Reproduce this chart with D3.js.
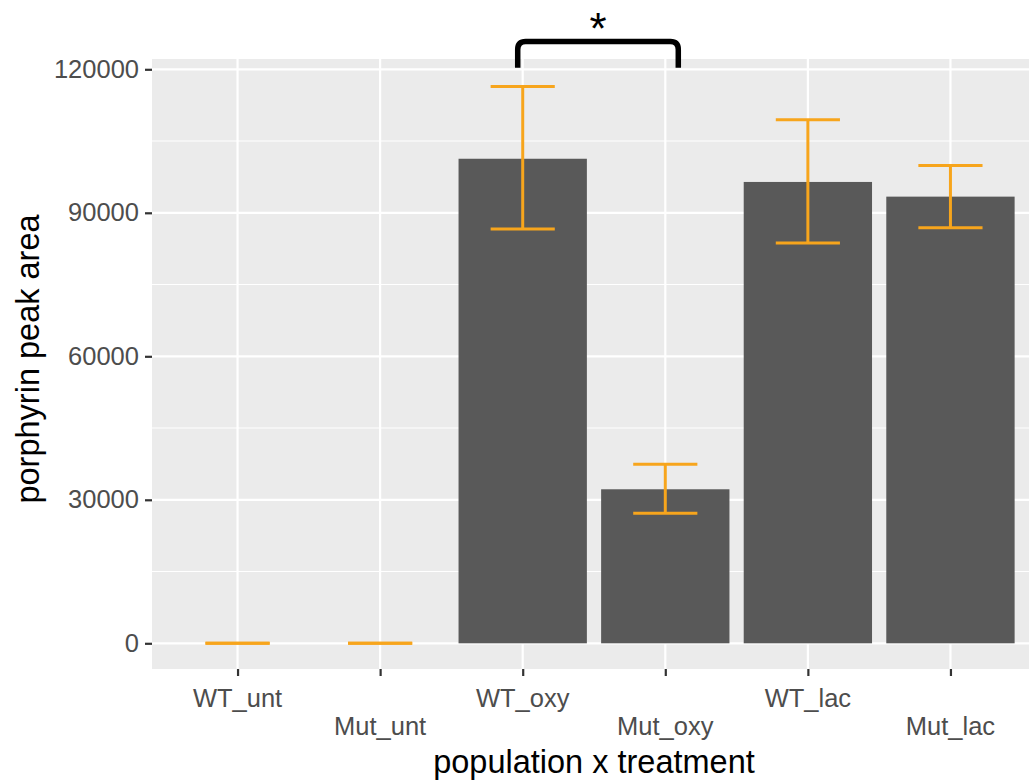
<!DOCTYPE html>
<html>
<head>
<meta charset="utf-8">
<script src="https://cdn.jsdelivr.net/npm/d3@7"></script>
<style>
  body { margin: 0; background: #fff; }
  text { font-family: "Liberation Sans", Arial, sans-serif; }
</style>
</head>
<body>
<div id="chart"></div>
<script>
// values
const categories = ["WT_unt", "Mut_unt", "WT_oxy", "Mut_oxy", "WT_lac", "Mut_lac"];
const means = [0, 0, 101300, 32200, 96450, 93380];
const upper = [0, 0, 116400, 37450, 109450, 99870];
const lower = [0, 0, 86600, 27200, 83700, 86900];
const yTicks = [0, 30000, 60000, 90000, 120000];
const yMinor = [15000, 45000, 75000, 105000];

const width = 1029, height = 784;
const panel = { left: 152, right: 1036, top: 59, bottom: 669 };

const svg = d3.select("#chart").append("svg")
    .attr("width", width)
    .attr("height", height);

const x = d3.scalePoint()
    .domain(categories)
    .range([panel.left, panel.right])
    .padding(0.6);

const y = d3.scaleLinear()
    .domain([0, 120000])
    .range([643.3, 69.3]);

const step = x.step();
const barW = step * 0.9;
const capW = step * 0.45;

// panel background
svg.append("rect")
    .attr("x", panel.left)
    .attr("y", panel.top)
    .attr("width", panel.right - panel.left)
    .attr("height", panel.bottom - panel.top)
    .attr("fill", "#ebebeb");

// grid
const grid = svg.append("g").attr("stroke", "#fff");
grid.selectAll(".minor")
    .data(yMinor)
    .join("line")
    .attr("x1", panel.left).attr("x2", panel.right)
    .attr("y1", d => y(d)).attr("y2", d => y(d))
    .attr("stroke-width", 1.1);
grid.selectAll(".major")
    .data(yTicks)
    .join("line")
    .attr("x1", panel.left).attr("x2", panel.right)
    .attr("y1", d => y(d)).attr("y2", d => y(d))
    .attr("stroke-width", 2.2);
grid.selectAll(".vmajor")
    .data(categories)
    .join("line")
    .attr("x1", d => x(d)).attr("x2", d => x(d))
    .attr("y1", panel.top).attr("y2", panel.bottom)
    .attr("stroke-width", 2.2);

const rows = categories.map((c, i) => ({ cat: c, mean: means[i], hi: upper[i], lo: lower[i] }));

// bars
svg.append("g")
    .selectAll("rect")
    .data(rows.filter(d => d.mean > 0))
    .join("rect")
    .attr("x", d => x(d.cat) - barW / 2)
    .attr("y", d => y(d.mean))
    .attr("width", barW)
    .attr("height", d => y(0) - y(d.mean))
    .attr("fill", "#595959");

// error bars
const err = svg.append("g")
    .attr("stroke", "#f7a51c")
    .attr("stroke-width", 3)
    .attr("fill", "none");
const eb = err.selectAll("g").data(rows).join("g");
eb.append("line")
    .attr("x1", d => x(d.cat)).attr("x2", d => x(d.cat))
    .attr("y1", d => y(d.hi)).attr("y2", d => y(d.lo));
eb.append("line")
    .attr("x1", d => x(d.cat) - capW / 2).attr("x2", d => x(d.cat) + capW / 2)
    .attr("y1", d => y(d.hi)).attr("y2", d => y(d.hi));
eb.append("line")
    .attr("x1", d => x(d.cat) - capW / 2).attr("x2", d => x(d.cat) + capW / 2)
    .attr("y1", d => y(d.lo)).attr("y2", d => y(d.lo));

// y axis
const yAxis = svg.append("g")
    .attr("transform", `translate(${panel.left},0)`)
    .call(d3.axisLeft(y).tickValues(yTicks).tickSize(7).tickPadding(6).tickFormat(d3.format("d")));
yAxis.select(".domain").remove();
yAxis.selectAll(".tick line").attr("stroke", "#333").attr("stroke-width", 2.2);
yAxis.selectAll(".tick text")
    .attr("fill", "#4d4d4d")
    .style("font-size", "25.5px")
    .style("font-family", "Liberation Sans, Arial, sans-serif");

// x axis, staggered labels
const xAxis = svg.append("g")
    .attr("transform", `translate(0,${panel.bottom})`)
    .call(d3.axisBottom(x).tickSize(7).tickFormat(""));
xAxis.select(".domain").remove();
xAxis.selectAll(".tick line").attr("stroke", "#333").attr("stroke-width", 2.2);
svg.append("g")
    .selectAll("text")
    .data(categories)
    .join("text")
    .attr("x", d => x(d))
    .attr("y", (d, i) => i % 2 === 0 ? 707 : 735)
    .attr("text-anchor", "middle")
    .attr("fill", "#4d4d4d")
    .style("font-size", "25.5px")
    .text(d => d);

// axis titles
svg.append("text")
    .attr("x", (panel.left + panel.right) / 2)
    .attr("y", 773)
    .attr("text-anchor", "middle")
    .attr("fill", "#000")
    .style("font-size", "32.5px")
    .text("population x treatment");
svg.append("text")
    .attr("transform", `translate(39,${(panel.top + panel.bottom) / 2 - 5}) rotate(-90)`)
    .attr("text-anchor", "middle")
    .attr("fill", "#000")
    .style("font-size", "32.5px")
    .text("porphyrin peak area");

// significance bracket
const sig = { from: "WT_oxy", to: "Mut_oxy", top: 125800, leg: 120300, label: "*" };
const bx1 = x(sig.from) - 5, bx2 = x(sig.to) + 13;
const r = 8;
svg.append("path")
    .attr("d", `M${bx1},${y(sig.leg)} V${y(sig.top) + r} Q${bx1},${y(sig.top)} ${bx1 + r},${y(sig.top)}
                H${bx2 - r} Q${bx2},${y(sig.top)} ${bx2},${y(sig.top) + r} V${y(sig.leg)}`)
    .attr("fill", "none")
    .attr("stroke", "#000")
    .attr("stroke-width", 5.5);
svg.append("text")
    .attr("x", (bx1 + bx2) / 2)
    .attr("y", 44)
    .attr("text-anchor", "middle")
    .attr("fill", "#000")
    .style("font-size", "44px")
    .text(sig.label);
</script>
</body>
</html>
